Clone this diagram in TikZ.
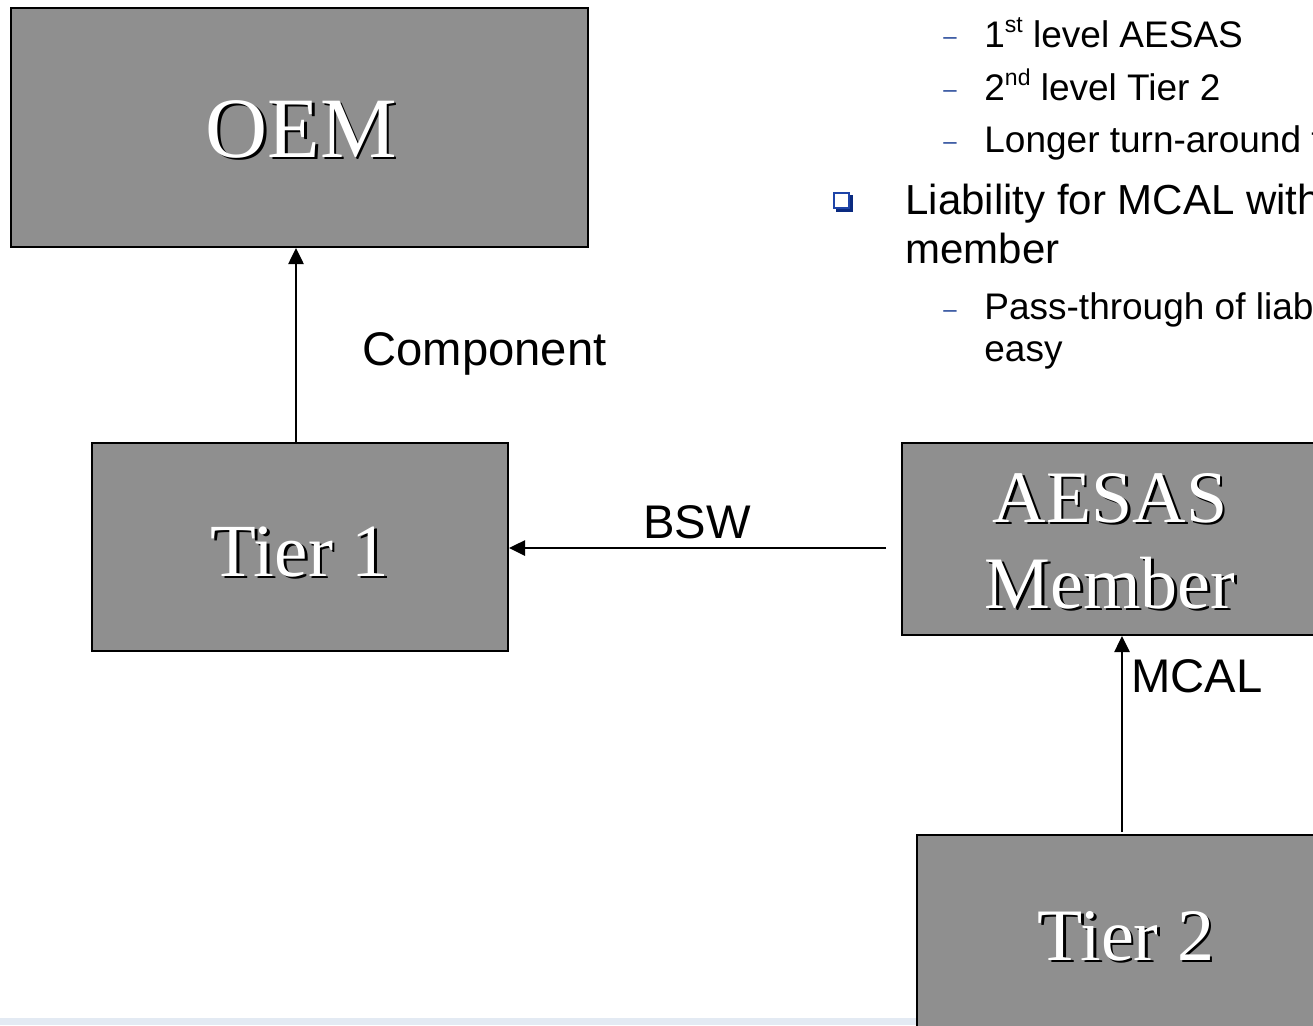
\documentclass[tikz,border=0pt]{standalone}
\usepackage{fontspec}
\setmainfont{Liberation Serif}
\newfontfamily\arialf{Liberation Sans}
\usetikzlibrary{arrows.meta}
\definecolor{boxgray}{HTML}{8F8F8F}
\definecolor{dashblue}{HTML}{2B4C9B}
\definecolor{sqblue}{HTML}{1E44A8}
\definecolor{sqshadow}{HTML}{0A2A80}
\definecolor{stripblue}{HTML}{E3EAF3}
\newcommand\shtxt[1]{\leavevmode\rlap{\kern1.3pt\raisebox{-1.3pt}{\textcolor{black}{#1}}}\textcolor{white}{#1}}
\newcommand\supx[1]{\raisebox{0.38em}{\fontsize{11.5}{12}\selectfont #1}}
\begin{document}
\begin{tikzpicture}[x=0.5pt,y=-0.5pt,
  box/.style={draw=black, line width=1pt, fill=boxgray, inner sep=0pt},
  arr/.style={line width=1.3pt, -{Triangle[length=8pt,width=7.5pt]}},
  boxtext/.style={inner sep=0pt, anchor=base, font=\fontsize{#1}{#1}\selectfont},
  lbl/.style={inner sep=0pt, anchor=base west, font=\arialf\fontsize{23.6}{27}\selectfont},
  main/.style={inner sep=0pt, anchor=base west, font=\arialf\fontsize{21}{25}\selectfont},
  sub/.style={inner sep=0pt, anchor=base west, font=\arialf\fontsize{18.5}{22}\selectfont},
  dsh/.style={inner sep=0pt, anchor=base west, text=dashblue, font=\arialf\fontsize{12}{14}\selectfont}]
\useasboundingbox (0,0) rectangle (1313,1025);
\clip (0,0) rectangle (1313,1025);
\fill[stripblue] (0,1018) rectangle (1313,1025);

% boxes
\node[box, minimum width=288.5pt, minimum height=119.5pt] (oem) at (299.5,127.5) {};
\node[box, minimum width=208pt, minimum height=104pt] (tier1) at (300,547) {};
\node[box, minimum width=214pt, minimum height=96pt] (aesas) at (1116,539) {};
\node[box, minimum width=206.5pt, minimum height=102.5pt] (tier2) at (1123.5,937.5) {};

% box texts
\node[boxtext=43] (oemt) at (301,157) {\shtxt{OEM}};
\node[boxtext=37.5] (tier1t) at (300,576) {\shtxt{Tier 1}};
\node[boxtext=37] (aesast1) at (1110,522) {\shtxt{AESAS}};
\node[boxtext=37] (aesast2) at (1110,608) {\shtxt{Member}};
\node[boxtext=37] (tier2t) at (1126,960) {\shtxt{Tier 2}};

% connectors
\coordinate (compstart) at (296,443);
\draw[arr] (compstart) -- (oem.south -| compstart);
\coordinate (bswstart) at (886,548);
\draw[arr] (bswstart) -- (tier1.east |- bswstart);
\coordinate (mcalstart) at (1122,832);
\draw[arr] (mcalstart) -- (aesas.south -| mcalstart);

% connector labels
\node[lbl] (comp) at (362,365) {Component};
\node[lbl] (bsw) at (643,538) {BSW};
\node[lbl] (mcal) at (1131,692) {MCAL};

% bullet text
\node[dsh] (d1) at (943,44) {–};
\node[sub] (s1) at (984,47) {1\supx{st} level AESAS};
\node[dsh] (d2) at (943,97) {–};
\node[sub] (s2) at (984,100) {2\supx{nd} level Tier 2};
\node[dsh] (d3) at (943,149) {–};
\node[sub] (s3) at (984,152) {Longer turn-around t};
\fill[sqshadow] (836,195) rectangle (853,212);
\filldraw[fill=white, draw=sqblue, line width=1.2pt] (834,193) rectangle (849,208);
\node[main] (m1) at (905,214) {Liability for MCAL with};
\node[main] (m2) at (905,263) {member};
\node[dsh] (d4) at (943,317) {–};
\node[sub] (s4) at (984,319) {Pass-through of liab};
\node[sub] (s5) at (984,361) {easy};
\end{tikzpicture}
\end{document}
